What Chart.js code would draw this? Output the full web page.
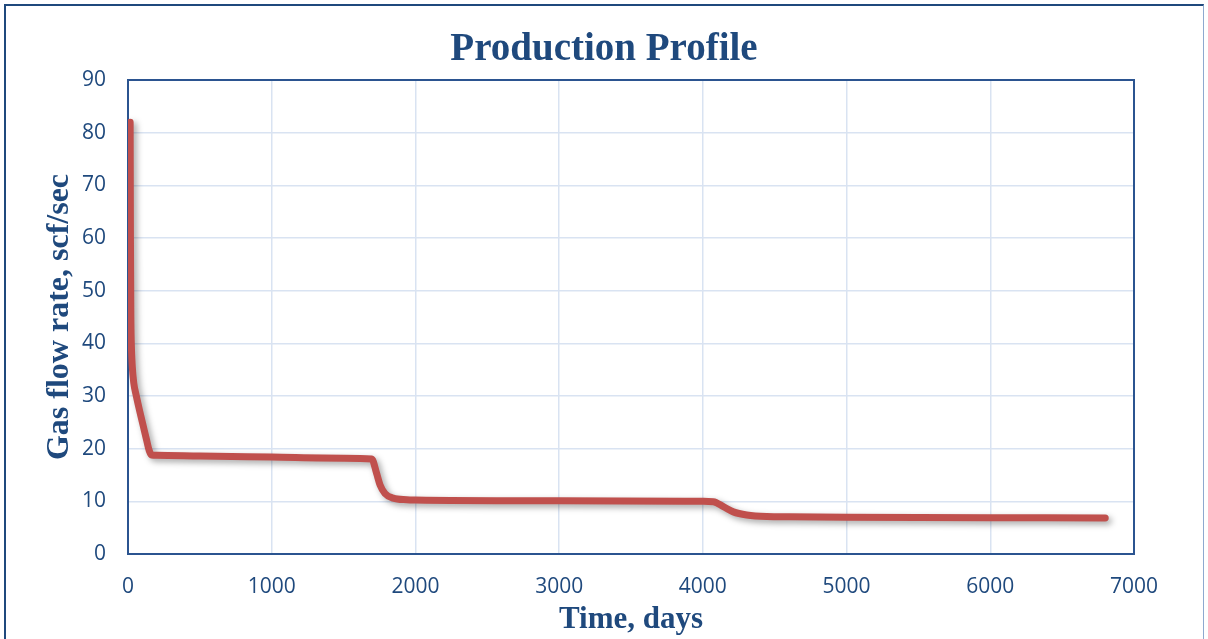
<!DOCTYPE html>
<html>
<head>
<meta charset="utf-8">
<script src="https://cdn.jsdelivr.net/npm/chart.js@4"></script>
<style>
  html, body { margin: 0; padding: 0; background: #fff; }
  #wrap { position: relative; width: 1208px; height: 639px; overflow: hidden; }
  #frame { position: absolute; left: 4px; top: 4px; width: 1200px; height: 700px; border: 2px solid #1F497D; border-right: 1px solid #8EA9CF; box-sizing: border-box; pointer-events: none; }
  canvas { position: absolute; left: 0; top: 0; }
</style>
</head>
<body>
<div id="wrap">
  <canvas id="c" width="1208" height="639"></canvas>
  <div id="frame"></div>
</div>
<script>
// ---- data ----
const timeDays = [15, 17, 20, 23, 30, 40, 58, 80, 107, 128, 148, 165, 200, 500, 1000, 1500, 1696, 1730, 1754, 1788, 1845, 1940, 2000, 3000, 4000, 4073, 4143, 4212, 4305, 4444, 4600, 5000, 6000, 6800];
const gasRate  = [82, 60, 45, 40, 35.5, 32.5, 30, 27.3, 24.2, 21.8, 19.6, 18.8, 18.75, 18.6, 18.4, 18.2, 18.05, 15.3, 13.1, 11.5, 10.6, 10.3, 10.25, 10.1, 10.0, 9.93, 9.0, 8.0, 7.4, 7.1, 7.05, 7.0, 6.9, 6.85];
const xTicks = [0, 1000, 2000, 3000, 4000, 5000, 6000, 7000];
const yTicks = [0, 10, 20, 30, 40, 50, 60, 70, 80, 90];
const chartTitle = 'Production Profile';
const xTitle = 'Time, days';
const yTitle = 'Gas flow rate, scf/sec';

const points = timeDays.map((t, i) => ({ x: t, y: gasRate[i] }));
const textBlue = '#1F497D';
const gridBlue = '#D9E3F2';

const shadowPlugin = {
  id: 'lineShadow',
  beforeDatasetDraw(chart) {
    const ctx = chart.ctx;
    ctx.save();
    ctx.shadowColor = 'rgba(0,0,0,0.35)';
    ctx.shadowBlur = 6;
    ctx.shadowOffsetX = 3;
    ctx.shadowOffsetY = 3;
  },
  afterDatasetDraw(chart) { chart.ctx.restore(); }
};
const framePlugin = {
  id: 'plotFrame',
  beforeDatasetsDraw(chart) {
    const { ctx, chartArea: a } = chart;
    ctx.save();
    ctx.strokeStyle = '#2B5490';
    ctx.lineWidth = 2;
    ctx.strokeRect(a.left, a.top, a.right - a.left, a.bottom - a.top);
    ctx.restore();
  }
};

new Chart(document.getElementById('c'), {
  type: 'line',
  data: {
    datasets: [{
      data: points,
      borderColor: '#C0504D',
      borderWidth: 7,
      borderCapStyle: 'round',
      borderJoinStyle: 'round',
      pointRadius: 0,
      fill: false,
      cubicInterpolationMode: 'monotone'
    }]
  },
  options: {
    responsive: false,
    animation: false,
    devicePixelRatio: 1,
    layout: { padding: 0 },
    plugins: {
      legend: { display: false },
      tooltip: { enabled: false },
      title: {
        display: true,
        text: chartTitle,
        color: textBlue,
        font: { family: '"Liberation Serif", serif', size: 39, weight: 'bold', lineHeight: 1.2 },
        padding: { top: 26.5, bottom: 6.7 }
      }
    },
    scales: {
      x: {
        type: 'linear',
        min: 0, max: 7000,
        afterBuildTicks(s) { s.ticks = xTicks.map(v => ({ value: v })); },
        afterFit(s) { s.height = 85; },
        grid: { color: gridBlue, lineWidth: 1.5, drawTicks: false },
        border: { display: false },
        ticks: { color: textBlue, padding: 20, maxRotation: 0, callback: v => String(v),
                 font: { family: '"Open Sans", sans-serif', size: 21 } },
        title: { display: true, text: xTitle, color: textBlue, padding: { top: 0, bottom: 0 },
                 font: { family: '"Liberation Serif", serif', size: 31, weight: 'bold', lineHeight: 1.2 } }
      },
      y: {
        min: 0, max: 90,
        afterBuildTicks(s) { s.ticks = yTicks.map(v => ({ value: v })); },
        afterFit(s) { s.width = 128; },
        grid: { color: gridBlue, lineWidth: 1.5, drawTicks: false },
        border: { display: false },
        ticks: { color: textBlue, padding: 22, callback: v => String(v),
                 font: { family: '"Open Sans", sans-serif', size: 21 } },
        title: { display: true, text: yTitle, color: textBlue, padding: { top: 41, bottom: 0 },
                 font: { family: '"Liberation Serif", serif', size: 32, weight: 'bold', lineHeight: 1.2 } }
      },
      spacer: {
        type: 'linear',
        position: 'right',
        display: true,
        afterFit(s) { s.width = 74; },
        grid: { display: false, drawTicks: false },
        border: { display: false },
        ticks: { display: false }
      }
    }
  },
  plugins: [shadowPlugin, framePlugin]
});
</script>
</body>
</html>
